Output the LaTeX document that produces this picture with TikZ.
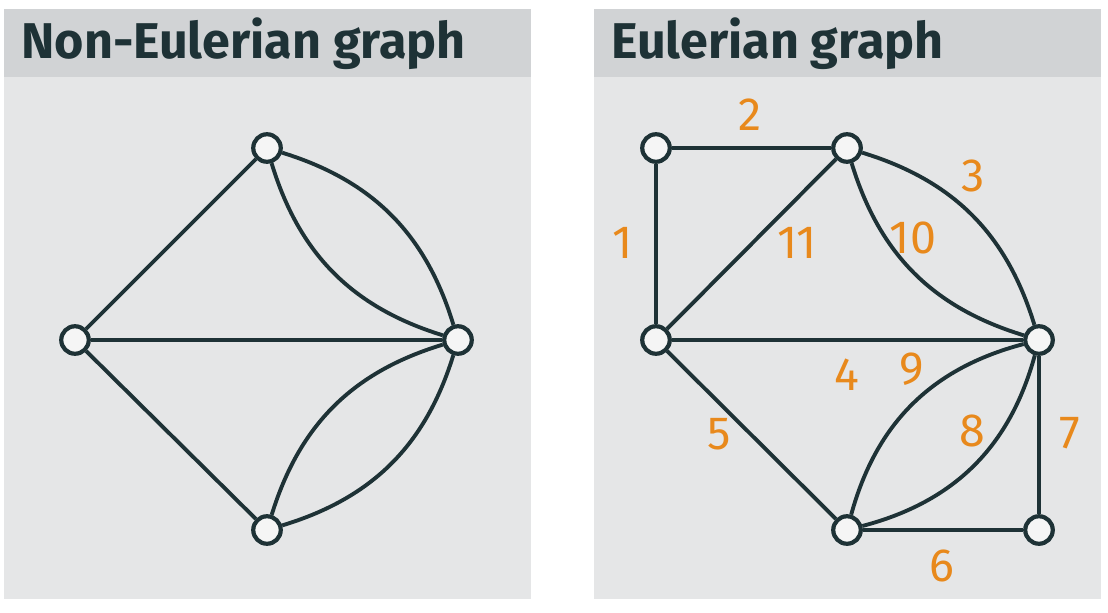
\documentclass[tikz,border=0pt]{standalone}
\usepackage{fontspec}
\setmainfont{Fira Sans}
\usepackage{tikz}
\usetikzlibrary{positioning, backgrounds}
\definecolor{ink}{HTML}{1E3236}
\definecolor{hdr}{HTML}{D1D3D5}
\definecolor{pane}{HTML}{E5E6E7}
\definecolor{num}{HTML}{E8891C}
\tikzstyle{vtx}=[inner sep=0pt, draw=ink, line width=2.4pt, shape=circle, minimum size=0.55cm, fill=white!60!pane]
\tikzstyle{edge}=[draw=ink, line width=2.2pt]
\tikzstyle{lbl}=[text=num, inner sep=0pt, font=\fontsize{26.5}{28}\selectfont]
\tikzstyle{ttl}=[text=ink, inner sep=0pt, anchor=base west, font=\fontsize{28.6}{30}\selectfont\bfseries]
\tikzset{>=stealth}

\begin{document}
\begin{tikzpicture}[x=0.02cm, y=-0.02cm]
\useasboundingbox (0,0) rectangle (1108,612);
\fill[pane] (4,9) rectangle (531,599);
\fill[hdr] (4,9) rectangle (531,77);
\fill[pane] (594,9) rectangle (1101,599);
\fill[hdr] (594,9) rectangle (1101,77);
\node[ttl] (T0) at (21,58) {Non-Eulerian graph};
\node[ttl] (T1) at (611,58) {Eulerian graph};

\node[vtx] (N0) at (267,148) {};
\node[vtx] (N1) at (75,340) {};
\node[vtx] (N2) at (458,340) {};
\node[vtx] (N3) at (267,530) {};

\draw[edge] (N1) -- (N0);
\draw[edge] (N1) -- (N2);
\draw[edge] (N1) -- (N3);
\draw[edge] (N0) to [bend left = 28] (N2);
\draw[edge] (N0) to [bend right = 28] (N2);
\draw[edge] (N3) to [bend left = 28] (N2);
\draw[edge] (N3) to [bend right = 28] (N2);

\node[vtx] (A) at (656,148) {};
\node[vtx] (B) at (847,148) {};
\node[vtx] (C) at (656,340) {};
\node[vtx] (D) at (1039,340) {};
\node[vtx] (E) at (847,530) {};
\node[vtx] (F) at (1039,530) {};

\draw[edge] (A) -- (C);
\draw[edge] (A) -- (B);
\draw[edge] (B) to [bend left = 28] (D);
\draw[edge] (C) -- (D);
\draw[edge] (C) -- (E);
\draw[edge] (E) -- (F);
\draw[edge] (F) -- (D);
\draw[edge] (E) to [bend right = 30] (D);
\draw[edge] (E) to [bend left = 30] (D);
\draw[edge] (B) to [bend right = 28] (D);
\draw[edge] (C) -- (B);

\node[lbl] (L1) at (623,243) {1};
\node[lbl] (L2) at (750,115) {2};
\node[lbl] (L3) at (973,176) {3};
\node[lbl] (L4) at (847,375) {4};
\node[lbl] (L5) at (719,434) {5};
\node[lbl] (L6) at (942,566) {6};
\node[lbl] (L7) at (1070,433) {7};
\node[lbl] (L8) at (972,431) {8};
\node[lbl] (L9) at (912,369) {9};
\node[lbl] (L10) at (913,238) {10};
\node[lbl] (L11) at (797,243) {11};
\end{tikzpicture}
\end{document}
